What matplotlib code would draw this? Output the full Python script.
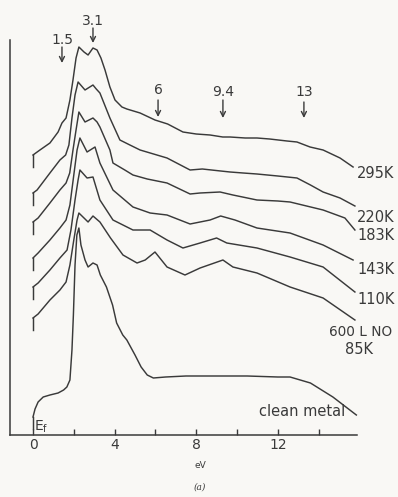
import numpy as np
import matplotlib
matplotlib.use("Agg")
import matplotlib.pyplot as plt

# binding energy below Ef (eV) and intensity (arb. units, curves offset)
e_295 = [0, 0.34, 0.83, 1.23, 1.42, 1.62, 1.81, 1.96, 2.11, 2.25, 2.5, 2.7, 2.94, 3.14, 3.33, 3.53, 3.77, 4.02, 4.36, 4.6, 5.25, 5.98, 6.6, 7.35, 8.0, 8.68, 9.3, 9.66, 10.4, 10.98, 11.6, 12.45, 12.94, 13.58, 14.22, 15.05, 15.69]
i_295 = [280, 285, 292, 303, 312, 317, 335, 355, 377, 388, 383, 380, 387, 385, 377, 365, 348, 335, 328, 326, 322, 315, 311, 303, 301, 300, 298, 298, 297, 297, 296, 294, 293, 288, 285, 277, 268]

e_220 = [0, 0.2, 0.83, 1.32, 1.6, 1.76, 1.91, 2.06, 2.21, 2.55, 2.94, 3.1, 3.28, 3.77, 4.26, 4.75, 5.25, 6.57, 7.7, 8.3, 9.2, 9.66, 10.3, 10.98, 12.0, 12.94, 13.6, 14.22, 15.05, 15.78]
i_220 = [242, 245, 262, 275, 280, 290, 317, 340, 353, 345, 350, 346, 342, 317, 295, 290, 285, 277, 265, 266, 264, 263, 262, 261, 259, 257, 250, 243, 237, 229]

e_183 = [0, 0.25, 0.83, 1.32, 1.62, 1.8, 1.96, 2.11, 2.25, 2.55, 2.94, 3.14, 3.28, 3.77, 3.92, 4.5, 4.9, 5.6, 6.57, 7.7, 8.19, 9.17, 9.8, 10.98, 12.0, 12.6, 14.22, 15.29, 15.78]
i_183 = [213, 217, 232, 245, 252, 262, 285, 305, 323, 313, 317, 313, 308, 285, 272, 265, 260, 256, 252, 241, 242, 243, 240, 235, 234, 233, 225, 217, 205]

e_143 = [0, 0.25, 0.83, 1.32, 1.62, 1.81, 2.0, 2.16, 2.3, 2.65, 3.04, 3.28, 3.92, 4.9, 5.74, 6.57, 7.7, 8.68, 9.2, 9.9, 10.98, 12.6, 14.22, 15.69]
i_143 = [177, 182, 195, 207, 215, 230, 260, 285, 297, 283, 288, 272, 245, 228, 222, 220, 211, 215, 219, 215, 207, 202, 190, 175]

e_110 = [0, 0.25, 0.83, 1.32, 1.67, 1.86, 2.06, 2.21, 2.3, 2.65, 2.94, 3.28, 3.92, 4.9, 5.74, 6.57, 7.35, 8.19, 9.0, 9.5, 10.98, 12.6, 14.22, 15.78]
i_110 = [148, 152, 165, 177, 185, 205, 235, 255, 265, 257, 258, 235, 215, 205, 205, 195, 187, 192, 197, 192, 187, 178, 168, 143]

e_85 = [0, 0.25, 0.83, 1.32, 1.62, 1.81, 2.0, 2.16, 2.25, 2.7, 2.94, 3.28, 3.8, 4.41, 5.1, 5.5, 5.98, 6.57, 7.45, 8.19, 9.31, 9.8, 10.98, 12.6, 14.22, 15.78]
i_85 = [117, 121, 135, 145, 153, 170, 195, 215, 222, 213, 219, 213, 197, 180, 172, 175, 183, 168, 160, 167, 175, 168, 162, 148, 137, 115]

e_clean = [0, 0.1, 0.25, 0.5, 0.83, 1.23, 1.5, 1.66, 1.81, 1.91, 1.98, 2.06, 2.15, 2.25, 2.35, 2.55, 2.7, 2.94, 3.14, 3.3, 3.6, 3.9, 4.1, 4.4, 4.6, 5.0, 5.3, 5.6, 5.9, 6.5, 7.5, 9.0, 10.5, 12.0, 12.6, 13.6, 14.7, 15.85]
i_clean = [18, 26, 33, 38, 40, 42, 45, 48, 55, 85, 120, 170, 200, 207, 190, 175, 168, 172, 170, 160, 148, 130, 112, 100, 95, 80, 68, 60, 57, 58, 59, 59, 59, 58, 58, 52, 38, 20]

curve_labels = ["295K", "220K", "183K", "143K", "110K", "600 L NO", "85K", "clean metal"]

arrow_text = ["1.5", "3.1", "6", "9.4", "13"]
arrow_e = [1.42, 2.94, 6.13, 9.31, 13.28]

ink = "#3a3a3a"
fig = plt.figure(figsize=(3.98, 4.97), dpi=100, facecolor="#f9f8f5")
ax = fig.add_axes([0, 0, 1, 1])
ax.set_facecolor("#f9f8f5")
# 20.4 px per eV, zero at x=33 px; intensity = pixels above the axis
ax.set_xlim(-33 / 20.4, 365 / 20.4)
ax.set_ylim(-62, 435)

curves = [(e_295, i_295), (e_220, i_220), (e_183, i_183), (e_143, i_143),
          (e_110, i_110), (e_85, i_85), (e_clean, i_clean)]
for e, i in curves:
    ax.plot(e, i, color=ink, lw=1.05)
    ax.plot([0, 0], [i[0], i[0] - 12], color=ink, lw=1.05)

# curve labels at right
lab_y = [262, 218, 200, 165, 135]
for t, y in zip(curve_labels[:5], lab_y):
    ax.text(15.9, y, t, fontsize=10.5, color=ink, ha="left", va="center")
ax.text(16.05, 103, curve_labels[5], fontsize=9.8, color=ink, ha="center", va="center")
ax.text(16.0, 85, curve_labels[6], fontsize=10.5, color=ink, ha="center", va="center")
ax.text(13.2, 23, curve_labels[7], fontsize=10.5, color=ink, ha="center", va="center")
ax.text(0.05, 8, r"E$_\mathregular{f}$", fontsize=10, color=ink, ha="left", va="center")

# arrows marking features
arrow_top = [388, 407, 335, 335, 333]
arrow_tip = [372, 392, 318, 317, 317]
label_y = [395, 414, 345, 343, 343]
for t, e, y0, y1, ly in zip(arrow_text, arrow_e, arrow_top, arrow_tip, label_y):
    ax.annotate("", xy=(e, y1), xytext=(e, y0),
                arrowprops=dict(arrowstyle="->", color=ink, lw=1.0,
                                shrinkA=0, shrinkB=0, mutation_scale=9))
    ax.text(e, ly, t, fontsize=10, color=ink, ha="center", va="center")

# axes
for s in ["top", "right"]:
    ax.spines[s].set_visible(False)
ax.spines["left"].set_position(("data", -1.13))
ax.spines["left"].set_bounds(0, 395)
ax.spines["bottom"].set_position(("data", 0))
ax.spines["bottom"].set_bounds(-1.13, 15.9)
for s in ["left", "bottom"]:
    ax.spines[s].set_color(ink)
    ax.spines[s].set_linewidth(1.1)
ax.set_yticks([])
ax.set_xticks(np.arange(0, 16, 2))
ax.set_xticklabels(["0", "", "4", "", "8", "", "12", ""])
ax.tick_params(axis="x", direction="in", length=4, width=1.0, color=ink,
               labelcolor=ink, labelsize=10, pad=2)
ax.text(8.2, -30, "eV", fontsize=6.5, color=ink, ha="center", va="center")
ax.text(8.2, -52, "(a)", fontsize=6.5, color=ink, ha="center", va="center",
        style="italic", family="DejaVu Serif")

fig.savefig("out.png", dpi=100, facecolor=fig.get_facecolor())
